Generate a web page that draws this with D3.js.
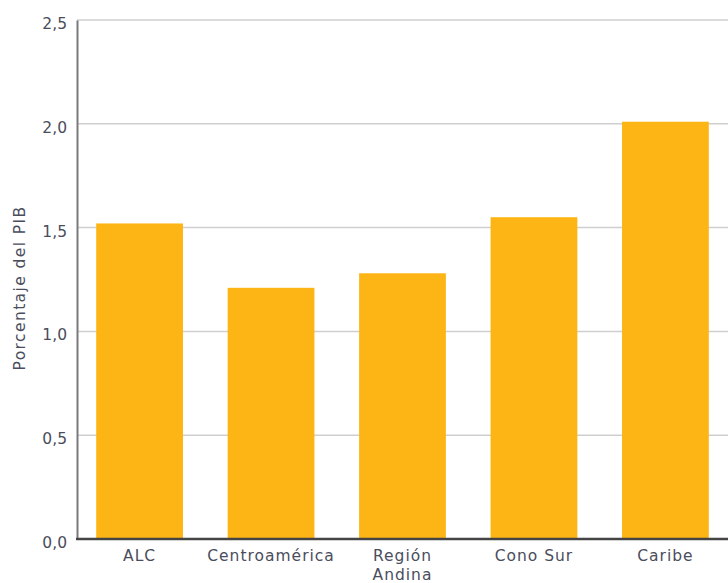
<!DOCTYPE html>
<html>
<head>
<meta charset="utf-8">
<script src="https://cdn.jsdelivr.net/npm/d3@7"></script>
<style>
  html, body { margin: 0; padding: 0; background: #fff; }
  svg { display: block; }
  text { font-family: "DejaVu Sans", "Verdana", sans-serif; fill: #4a4d5c; }
</style>
</head>
<body>
<svg id="chart" width="728" height="583"></svg>
<script>
// Gasto como porcentaje del PIB por subregión
const categories = ["ALC", "Centroamérica", "Región Andina", "Cono Sur", "Caribe"];
const labelLines = [["ALC"], ["Centroamérica"], ["Región", "Andina"], ["Cono Sur"], ["Caribe"]];
const values = [1.52, 1.21, 1.28, 1.55, 2.01];
const yTicks = [0, 0.5, 1.0, 1.5, 2.0, 2.5];
const yTickLabels = ["0,0", "0,5", "1,0", "1,5", "2,0", "2,5"];
const yAxisTitle = "Porcentaje del PIB";

const W = 728, H = 583;
const margin = { left: 77, right: 0, top: 20, bottom: 44 };

const svg = d3.select("#chart");

const x = d3.scaleBand()
  .domain(categories)
  .range([margin.left, W - margin.right])
  .paddingInner(0.34)
  .paddingOuter(0.146);

const y = d3.scaleLinear()
  .domain([0, 2.5])
  .range([H - margin.bottom, margin.top]);

// Horizontal gridlines
svg.append("g")
  .selectAll("line")
  .data(yTicks.filter(d => d > 0))
  .join("line")
  .attr("x1", margin.left)
  .attr("x2", W)
  .attr("y1", d => y(d))
  .attr("y2", d => y(d))
  .attr("stroke", "#cfcfcf")
  .attr("stroke-width", 1.5);

// Bars
svg.append("g")
  .selectAll("rect")
  .data(values)
  .join("rect")
  .attr("x", (d, i) => x(categories[i]))
  .attr("width", x.bandwidth())
  .attr("y", d => y(d))
  .attr("height", d => y(0) - y(d))
  .attr("fill", "#fdb515");

// Y axis
const yAxis = d3.axisLeft(y)
  .tickValues(yTicks)
  .tickFormat((d, i) => yTickLabels[i])
  .tickSize(0)
  .tickPadding(10);

const gy = svg.append("g")
  .attr("transform", `translate(${margin.left},0)`)
  .call(yAxis);
gy.select(".domain").attr("stroke", "#7a7a7a").attr("stroke-width", 2);
gy.selectAll(".tick text")
  .attr("font-family", "DejaVu Sans, sans-serif")
  .attr("font-size", 15.5)
  .attr("dy", "0.55em")
  .style("fill", "#4a4d5c");

// X axis baseline
svg.append("line")
  .attr("x1", margin.left - 1)
  .attr("x2", W)
  .attr("y1", y(0))
  .attr("y2", y(0))
  .attr("stroke", "#444")
  .attr("stroke-width", 2.5);

// X category labels
const xl = svg.append("g")
  .selectAll("text")
  .data(categories)
  .join("text")
  .attr("x", d => x(d) + x.bandwidth() / 2)
  .attr("y", y(0) + 22)
  .attr("text-anchor", "middle")
  .attr("font-size", 15.5)
  .attr("letter-spacing", 1);
xl.selectAll("tspan")
  .data((d, i) => labelLines[i])
  .join("tspan")
  .attr("x", function () { return d3.select(this.parentNode).attr("x"); })
  .attr("dy", (d, j) => j === 0 ? 0 : 19)
  .text(d => d);

// Y axis title
svg.append("text")
  .attr("transform", `translate(25,288) rotate(-90)`)
  .attr("text-anchor", "middle")
  .attr("font-size", 15.5)
  .attr("letter-spacing", 1.4)
  .text(yAxisTitle);
</script>
</body>
</html>
